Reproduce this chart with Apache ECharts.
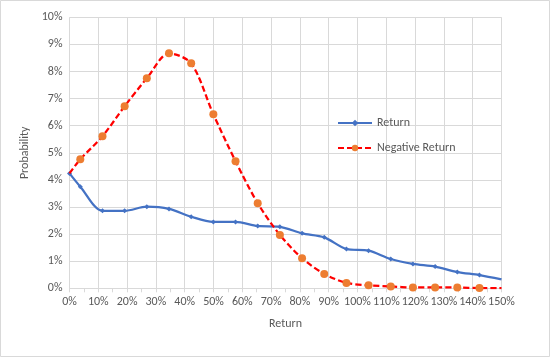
<!DOCTYPE html>
<html>
<head>
<meta charset="utf-8">
<script src="https://cdn.jsdelivr.net/npm/echarts@6/dist/echarts.min.js"></script>
<style>
html,body{margin:0;padding:0;background:#fff;}
#c{width:551px;height:358px;}
</style>
</head>
<body>
<div id="c"></div>
<script>
// Data (x = Return %, y = Probability %)
const returnX = [0, 3.75, 11.45, 19.15, 26.85, 34.55, 42.25, 49.95, 57.65, 65.35, 73.05, 80.75, 88.45, 96.15, 103.85, 111.55, 119.25, 126.95, 134.65, 142.35, 150];
const returnVals = [4.24, 3.75, 2.86, 2.86, 3.01, 2.93, 2.64, 2.45, 2.45, 2.30, 2.27, 2.03, 1.88, 1.45, 1.39, 1.08, 0.90, 0.80, 0.60, 0.49, 0.33];
const negReturnVals = [4.24, 4.76, 5.61, 6.72, 7.75, 8.67, 8.30, 6.42, 4.69, 3.14, 1.97, 1.11, 0.53, 0.20, 0.11, 0.07, 0.03, 0.03, 0.03, 0.01, 0.01];
const seriesNames = ['Return', 'Negative Return'];
const xAxisTitle = 'Return';
const yAxisTitle = 'Probability';

const FONT = 'Carlito, "Liberation Sans", sans-serif';
const TXT = '#595959';
const FS = 12;

function build(vals, hideFirst) {
  return returnX.map((x, i) => {
    const item = { value: [x, vals[i]] };
    if ((hideFirst && i === 0) || i === returnX.length - 1) item.symbol = 'none';
    return item;
  });
}

const chart = echarts.init(document.getElementById('c'), null, { renderer: 'canvas' });
chart.setOption({
  animation: false,
  backgroundColor: '#fff',
  textStyle: { fontFamily: FONT },
  graphic: [{
    type: 'rect', silent: true, z: -10,
    shape: { x: 0.5, y: 0.5, width: 549, height: 356 },
    style: { fill: 'none', stroke: '#d9d9d9', lineWidth: 1 }
  }],
  grid: { left: 69.5, right: 49.5, top: 17.3, bottom: 69.7, containLabel: false },
  legend: {
    orient: 'vertical',
    left: 332, top: 112,
    itemWidth: 34, itemHeight: 8, itemGap: 13,
    textStyle: { color: TXT, fontSize: FS, fontFamily: FONT },
    data: seriesNames
  },
  xAxis: {
    type: 'value', min: 0, max: 150, interval: 10,
    name: xAxisTitle, nameLocation: 'middle', nameGap: 30,
    nameTextStyle: { color: TXT, fontSize: FS, fontFamily: FONT },
    axisLine: { show: true, lineStyle: { color: '#d9d9d9', width: 1 } },
    axisTick: { show: true, length: 4, lineStyle: { color: '#d9d9d9' } },
    minorTick: { show: true, splitNumber: 2, length: 4, lineStyle: { color: '#d9d9d9' } },
    axisLabel: { color: TXT, fontSize: FS, fontFamily: FONT, formatter: '{value}%', margin: 8 },
    splitLine: { show: true, lineStyle: { color: '#d9d9d9', width: 1 } }
  },
  yAxis: {
    type: 'value', min: 0, max: 10, interval: 1,
    name: yAxisTitle, nameLocation: 'middle', nameGap: 32, nameRotate: 90,
    nameTextStyle: { color: TXT, fontSize: FS, fontFamily: FONT },
    axisLine: { show: false },
    axisTick: { show: false },
    axisLabel: { color: TXT, fontSize: FS, fontFamily: FONT, formatter: '{value}%', margin: 7 },
    splitLine: { show: true, lineStyle: { color: '#d9d9d9', width: 1 } }
  },
  series: [
    {
      name: seriesNames[0], type: 'line', smooth: 0.3,
      data: build(returnVals, false),
      symbol: 'diamond', symbolSize: 5, showAllSymbol: true,
      lineStyle: { color: '#4472C4', width: 2.25 },
      itemStyle: { color: '#4472C4' },
      z: 3
    },
    {
      name: seriesNames[1], type: 'line', smooth: 0.3,
      data: build(negReturnVals, true),
      symbol: 'circle', symbolSize: 8, showAllSymbol: true,
      lineStyle: { color: '#FF0000', width: 2.25, type: [6, 3] },
      itemStyle: { color: '#ED7D31' },
      z: 4
    }
  ]
});
</script>
</body>
</html>
